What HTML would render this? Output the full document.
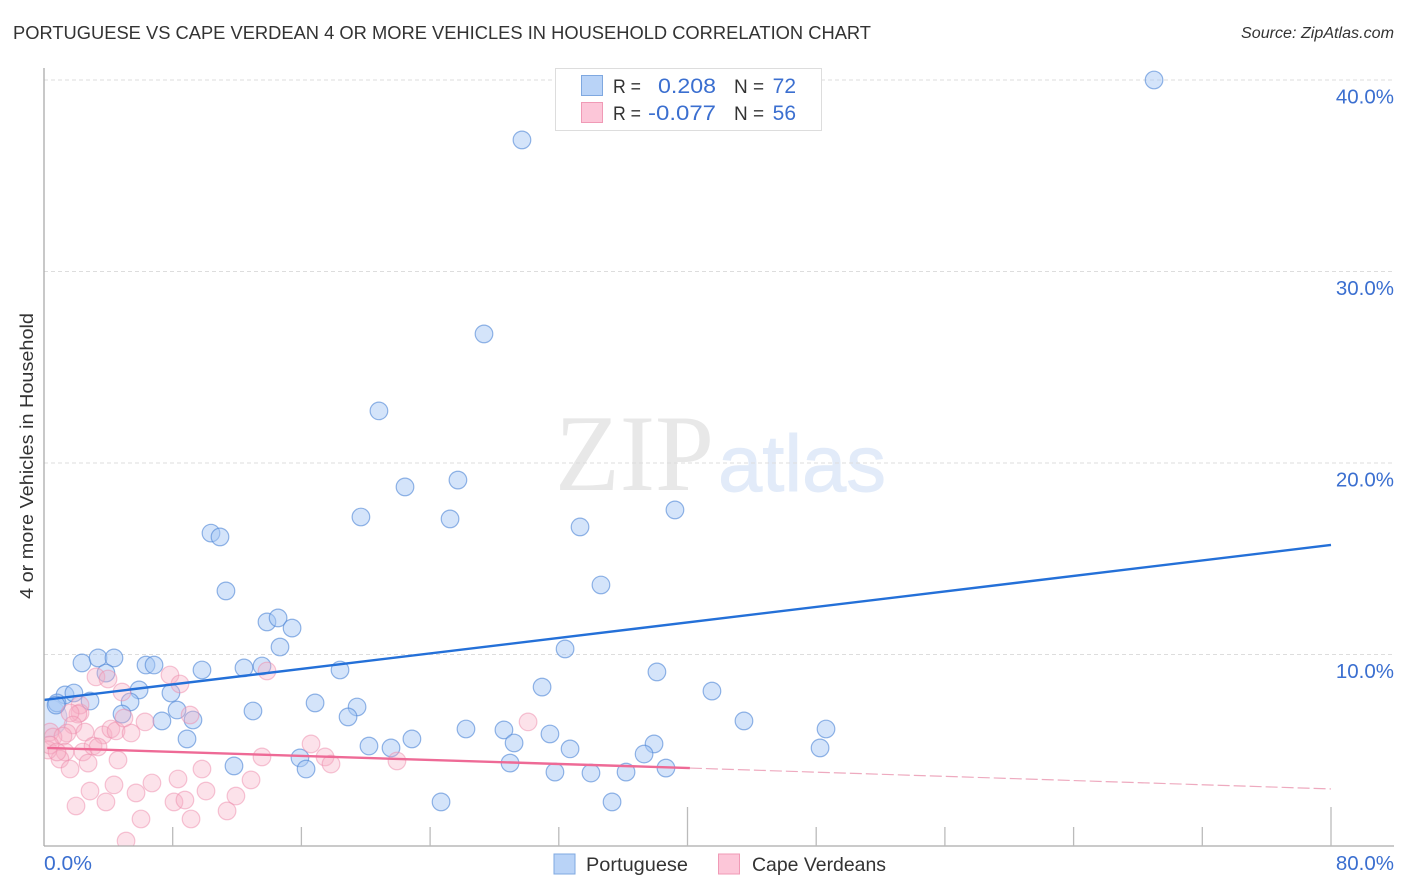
<!DOCTYPE html>
<html lang="en">
<head>
<meta charset="utf-8">
<title>Portuguese vs Cape Verdean 4 or More Vehicles in Household Correlation Chart</title>
<style>
html,body{margin:0;padding:0;background:#fff;}
svg{display:block;}
text{font-family:"Liberation Sans",sans-serif;}
</style>
</head>
<body>
<svg id="chart" width="1406" height="892" viewBox="0 0 1406 892" xmlns="http://www.w3.org/2000/svg">
  <text x="13" y="39" font-size="18.5" fill="#333" textLength="858" lengthAdjust="spacingAndGlyphs">PORTUGUESE VS CAPE VERDEAN 4 OR MORE VEHICLES IN HOUSEHOLD CORRELATION CHART</text>
  <text x="1241" y="38" font-size="15.5" font-style="italic" fill="#333" textLength="153" lengthAdjust="spacingAndGlyphs">Source: ZipAtlas.com</text>
  <g id="watermark">
    <text x="555" y="490" font-size="109" fill="#e8e8e8" style="font-family:'Liberation Serif',serif" textLength="159" lengthAdjust="spacingAndGlyphs">ZIP</text>
    <text x="718" y="491" font-size="80" fill="#e2ebf9" stroke="#e2ebf9" stroke-width="0.9" textLength="168" lengthAdjust="spacingAndGlyphs">atlas</text>
  </g>
  <g id="grid"></g>
  <g id="points"></g>
  <g id="trends"></g>
  <g id="axes"></g>
  <text transform="translate(33,456) rotate(-90)" font-size="18.5" fill="#333" text-anchor="middle" textLength="286" lengthAdjust="spacingAndGlyphs">4 or more Vehicles in Household</text>

  <g>
    <rect x="555.5" y="68.5" width="266" height="62" fill="#fff" stroke="#ddd"/>
    <rect x="581.5" y="75.5" width="21" height="20" fill="#b9d3f7" stroke="#7fa8e0"/>
    <rect x="581.5" y="102.5" width="21" height="20" fill="#fcc6d8" stroke="#f09ab6"/>
    <text x="613" y="93" font-size="19" fill="#333" textLength="28" lengthAdjust="spacingAndGlyphs">R =</text>
    <text x="658" y="93" font-size="21" fill="#3b6fd0" textLength="58" lengthAdjust="spacingAndGlyphs">0.208</text>
    <text x="734" y="93" font-size="19" fill="#333">N =</text>
    <text x="796" y="93" font-size="21" fill="#3b6fd0" text-anchor="end">72</text>
    <text x="613" y="120" font-size="19" fill="#333" textLength="28" lengthAdjust="spacingAndGlyphs">R =</text>
    <text x="648" y="120" font-size="21" fill="#3b6fd0" textLength="68" lengthAdjust="spacingAndGlyphs">-0.077</text>
    <text x="734" y="120" font-size="19" fill="#333">N =</text>
    <text x="796" y="120" font-size="21" fill="#3b6fd0" text-anchor="end">56</text>
  </g>

  <g>
    <rect x="554" y="854" width="21" height="20" fill="#b9d3f7" stroke="#7fa8e0"/>
    <text x="586" y="871" font-size="19.5" fill="#333" textLength="102" lengthAdjust="spacingAndGlyphs">Portuguese</text>
    <rect x="718.5" y="854" width="21" height="20" fill="#fcc6d8" stroke="#f09ab6"/>
    <text x="752" y="871" font-size="19.5" fill="#333" textLength="134" lengthAdjust="spacingAndGlyphs">Cape Verdeans</text>
  </g>
</svg>
<script>
const xTickValues = [0, 8, 16, 24, 32, 40, 48, 56, 64, 72, 80];
const majorXTicks = [40, 80];
const xTickLabels = ["0.0%", "80.0%"];
const yTickValues = [10, 20, 30, 40];
const yTickLabels = ["10.0%", "20.0%", "30.0%", "40.0%"];

const portugueseX = [69.0,29.71,27.35,20.82,22.44,25.73,19.70,25.24,33.32,39.22,10.38,10.94,11.31,34.62,13.86,14.55,15.42,14.67,32.39,2.36,3.36,4.35,6.34,6.84,9.82,12.43,13.55,18.40,38.10,3.85,30.96,41.52,5.91,7.89,1.31,1.86,0.81,0.75,2.86,5.35,8.27,12.99,16.85,19.46,18.90,4.85,7.33,9.26,43.51,26.23,28.59,48.61,31.45,8.89,20.20,22.87,21.57,29.22,32.70,37.92,48.24,37.30,15.91,11.81,16.29,28.97,31.76,34.00,36.18,38.66,24.68,35.31];
const portugueseY = [40.0,36.87,26.74,22.72,18.75,19.11,17.18,17.08,16.66,17.55,16.34,16.14,13.32,13.63,11.70,11.91,11.38,10.39,10.29,9.56,9.82,9.82,9.45,9.45,9.19,9.30,9.40,9.19,9.09,9.03,8.30,8.09,8.15,7.99,7.89,7.99,7.47,7.36,7.57,7.52,7.10,7.05,7.47,7.26,6.74,6.89,6.53,6.58,6.53,6.11,6.06,6.11,5.85,5.59,5.22,5.59,5.12,5.38,5.07,5.33,5.12,4.80,4.60,4.18,4.02,4.33,3.86,3.81,3.86,4.07,2.30,2.30];
const clusterX = [0.25];
const clusterY = [6.68];

const capeVerdeanX = [3.23,3.98,4.85,7.83,8.45,13.86,2.24,2.24,2.11,1.62,1.80,2.55,1.43,3.67,4.16,4.48,5.41,6.28,4.97,9.08,0.37,0.56,1.18,1.31,0.99,1.62,2.42,2.74,3.05,3.36,4.60,0.25,0.37,0.81,2.86,4.35,6.71,5.72,3.85,1.99,6.03,5.10,8.33,8.08,8.76,9.14,10.07,9.82,12.87,11.93,11.38,13.55,16.60,17.47,17.84,30.09,21.94];
const capeVerdeanY = [8.83,8.72,8.04,8.93,8.46,9.14,6.95,7.36,6.89,6.95,6.32,5.95,5.90,5.80,6.11,6.01,5.90,6.48,6.68,6.84,5.95,5.69,5.74,4.91,4.54,4.02,4.91,4.33,5.22,5.17,4.49,5.01,5.27,4.91,2.87,3.19,3.29,2.77,2.30,2.09,1.41,0.26,3.50,2.30,2.40,1.41,2.87,4.02,3.45,2.61,1.83,4.65,5.33,4.65,4.28,6.48,4.44];

const portugueseTrendX = [0, 80];
const portugueseTrendY = [7.63, 15.72];
const capeSolidTrendX = [0.2, 40.15];
const capeSolidTrendY = [5.12, 4.07];
const capeDashedTrendX = [40.15, 80];
const capeDashedTrendY = [4.07, 2.98];

const SVG_NS = "http://www.w3.org/2000/svg";
const xScale = v => 44 + v * 16.0875;
const yScale = v => 846 - v * 19.15;
const make = (tag, attrs, parent) => {
  const el = document.createElementNS(SVG_NS, tag);
  for (const k in attrs) el.setAttribute(k, attrs[k]);
  parent.appendChild(el);
  return el;
};
const grid = document.getElementById("grid");
const axes = document.getElementById("axes");
const points = document.getElementById("points");
const trends = document.getElementById("trends");

yTickValues.forEach((v, i) => {
  const line = make("line", {x1: 44, x2: 1394, y1: yScale(v), y2: yScale(v), stroke: "#ddd", "stroke-width": 1, "stroke-dasharray": "4 3"}, grid);
  
  
  const label = make("text", {x: 1394, y: yScale(v) + 23.5, "font-size": 20.5, fill: "#3b6fd0", "text-anchor": "end"}, axes);
  label.textContent = yTickLabels[i];
  
  
});

const yAxis = make("line", {x1: 44, x2: 44, y1: 68, y2: 846, stroke: "#aaa", "stroke-width": 1.3}, axes);


const xAxis = make("line", {x1: 44, x2: 1394, y1: 846, y2: 846, stroke: "#aaa", "stroke-width": 1.3}, axes);



xTickValues.forEach(v => {
  if (v === 0) return;
  const top = majorXTicks.includes(v) ? 807 : 827;
  const tick = make("line", {x1: xScale(v), x2: xScale(v), y1: top, y2: 846, stroke: "#bbb", "stroke-width": 1.3}, axes);
  
  
});

const xLabelStart = make("text", {x: 44, y: 870, "font-size": 20.5, fill: "#3b6fd0", textLength: 48, lengthAdjust: "spacingAndGlyphs"}, axes);
xLabelStart.textContent = xTickLabels[0];


const xLabelEnd = make("text", {x: 1394, y: 870, "font-size": 20.5, fill: "#3b6fd0", "text-anchor": "end"}, axes);
xLabelEnd.textContent = xTickLabels[1];



const clip = make("clipPath", {id: "plot-clip"}, document.getElementById("chart"));
make("rect", {x: 44, y: 60, width: 1350, height: 786}, clip);
points.setAttribute("clip-path", "url(#plot-clip)");

clusterX.forEach((v, i) => {
  const c = make("circle", {cx: xScale(v), cy: yScale(clusterY[i]), r: 19, fill: "rgba(165,198,244,0.4)", stroke: "rgba(120,165,225,0.5)", "stroke-width": 1.1}, points);
  
  
});
portugueseX.forEach((v, i) => {
  const c = make("circle", {cx: xScale(v), cy: yScale(portugueseY[i]), r: 8.8, fill: "rgba(165,198,244,0.48)", stroke: "rgba(80,135,215,0.62)", "stroke-width": 1.2}, points);
  
  
});
capeVerdeanX.forEach((v, i) => {
  const c = make("circle", {cx: xScale(v), cy: yScale(capeVerdeanY[i]), r: 8.8, fill: "rgba(248,175,198,0.36)", stroke: "rgba(238,140,172,0.5)", "stroke-width": 1.2}, points);
  
  
});

const blueTrend = make("line", {x1: xScale(portugueseTrendX[0]), y1: yScale(portugueseTrendY[0]), x2: xScale(portugueseTrendX[1]), y2: yScale(portugueseTrendY[1]), stroke: "#2470d8", "stroke-width": 2.4}, trends);


const pinkTrend = make("line", {x1: xScale(capeSolidTrendX[0]), y1: yScale(capeSolidTrendY[0]), x2: xScale(capeSolidTrendX[1]), y2: yScale(capeSolidTrendY[1]), stroke: "#ee6a96", "stroke-width": 2.4}, trends);


const pinkDash = make("line", {x1: xScale(capeDashedTrendX[0]), y1: yScale(capeDashedTrendY[0]), x2: xScale(capeDashedTrendX[1]), y2: yScale(capeDashedTrendY[1]), stroke: "#eeaabf", "stroke-width": 1.2, "stroke-dasharray": "12 4"}, trends);


</script>
</body>
</html>
